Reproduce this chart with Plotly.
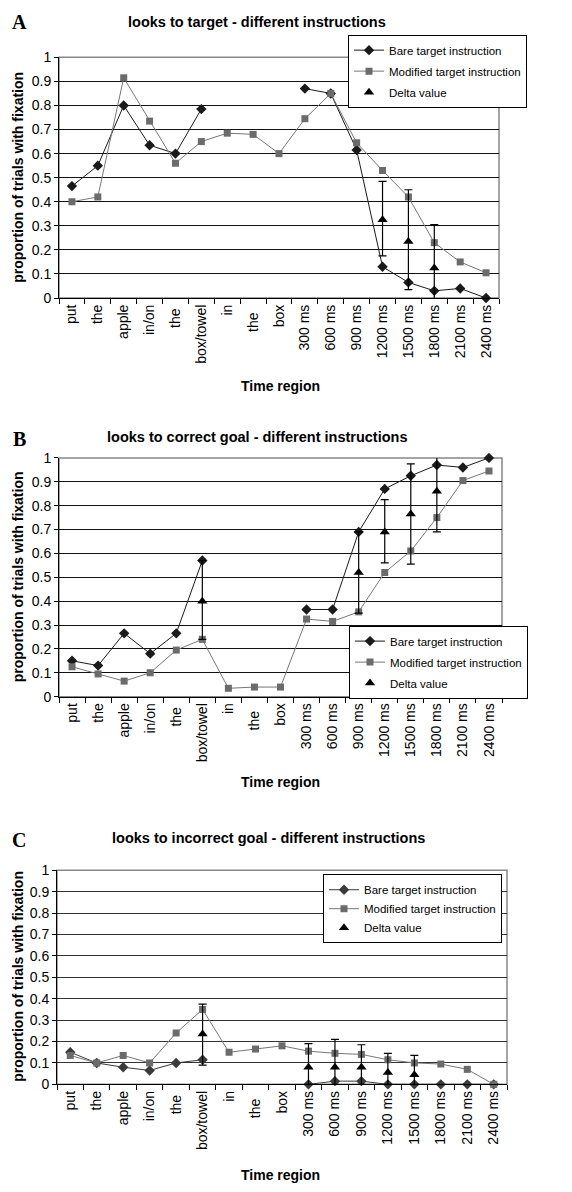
import plotly.graph_objects as go

# ---------------- data ----------------
categories = ["put", "the", "apple", "in/on", "the", "box/towel", "in", "the", "box",
              "300 ms", "600 ms", "900 ms", "1200 ms", "1500 ms", "1800 ms", "2100 ms", "2400 ms"]

# Panel A: looks to target
a_bare = [0.465, 0.55, 0.80, 0.635, 0.60, 0.785, None, None, None,
          0.87, 0.85, 0.615, 0.13, 0.065, 0.03, 0.04, 0.0]
a_mod = [0.40, 0.42, 0.915, 0.735, 0.56, 0.65, 0.685, 0.68, 0.60,
         0.745, 0.85, 0.645, 0.53, 0.42, 0.23, 0.15, 0.105]
a_delta_cat = ["1200 ms", "1500 ms", "1800 ms"]
a_delta = [0.325, 0.235, 0.125]
a_delta_hi = [0.485, 0.45, 0.305]
a_delta_lo = [0.175, 0.035, -0.055]

# Panel B: looks to correct goal
b_bare = [0.15, 0.13, 0.265, 0.18, 0.265, 0.57, None, None, None,
          0.365, 0.365, 0.69, 0.87, 0.925, 0.97, 0.96, 1.0]
b_mod = [0.125, 0.095, 0.065, 0.10, 0.195, 0.24, 0.035, 0.04, 0.04,
         0.325, 0.315, 0.355, 0.52, 0.61, 0.75, 0.905, 0.945]
b_delta_cat = ["box/towel", "900 ms", "1200 ms", "1500 ms", "1800 ms"]
b_delta = [0.40, 0.52, 0.69, 0.765, 0.86]
b_delta_hi = [0.57, 0.69, 0.825, 0.975, 1.03]
b_delta_lo = [0.24, 0.35, 0.56, 0.555, 0.69]

# Panel C: looks to incorrect goal
c_bare = [0.15, 0.10, 0.08, 0.065, 0.10, 0.115, None, None, None,
          0.0, 0.015, 0.015, 0.0, 0.0, 0.0, 0.0, 0.0]
c_mod = [0.135, 0.10, 0.135, 0.10, 0.24, 0.35, 0.15, 0.165, 0.18,
         0.155, 0.145, 0.14, 0.115, 0.10, 0.095, 0.07, 0.0]
c_delta_cat = ["box/towel", "300 ms", "600 ms", "900 ms", "1200 ms", "1500 ms"]
c_delta = [0.235, 0.08, 0.08, 0.08, 0.055, 0.045]
c_delta_hi = [0.375, 0.19, 0.21, 0.185, 0.145, 0.135]
c_delta_lo = [0.09, 0.0, 0.0, 0.0, 0.0, 0.0]

titles = ["looks to target - different instructions",
          "looks to correct goal - different instructions",
          "looks to incorrect goal - different instructions"]
letters = ["A", "B", "C"]

# ---------------- helpers ----------------
# unique category keys (the word "the" repeats); trailing spaces render invisibly
keys = []
seen = {}
for c in categories:
    n = seen.get(c, 0)
    keys.append(c + " " * n)
    seen[c] = n + 1


def key_of(label):
    return keys[categories.index(label)]


W, H = 572, 1192
FONT = "Liberation Sans, Arial, sans-serif"

fig = go.Figure()

panels = [
    dict(bare=a_bare, mod=a_mod, dcat=a_delta_cat, d=a_delta, dhi=a_delta_hi, dlo=a_delta_lo,
         x0=59, x1=499, ytop=50, ybot=294, legend=(348, 27), grid="#111111", bare_c="#1a1a1a",
         letter_y=14, title_x=257, title_y=14, ytitle_y=172, xtitle_y=383, gap=2),
    dict(bare=b_bare, mod=b_mod, dcat=b_delta_cat, d=b_delta, dhi=b_delta_hi, dlo=b_delta_lo,
         x0=59, x1=502, ytop=456, ybot=698, legend=(349, 626), grid="#111111", bare_c="#1a1a1a",
         letter_y=437, title_x=257, title_y=435, ytitle_y=577, xtitle_y=785, gap=2),
    dict(bare=c_bare, mod=c_mod, dcat=c_delta_cat, d=c_delta, dhi=c_delta_hi, dlo=c_delta_lo,
         x0=57, x1=507, ytop=874, ybot=1091, legend=(323, 878), grid="#333333", bare_c="#3a3a3a",
         letter_y=843, title_x=268, title_y=841, ytitle_y=982, xtitle_y=1183, gap=0),
]

annotations = []
shapes = []
layout_axes = {}

for i, p in enumerate(panels):
    n = "" if i == 0 else str(i + 1)
    xa, ya = "x" + n, "y" + n
    leg = "legend" + n
    fig.add_trace(go.Scatter(
        x=keys, y=p["bare"], xaxis=xa, yaxis=ya, mode="lines+markers",
        name="Bare target instruction", legend=leg, legendgroup=f"b{i}", connectgaps=False,
        line=dict(color=p["bare_c"], width=1),
        marker=dict(symbol="diamond", size=8, color=p["bare_c"]), cliponaxis=False))
    fig.add_trace(go.Scatter(
        x=keys, y=p["mod"], xaxis=xa, yaxis=ya, mode="lines+markers",
        name="Modified target instruction", legend=leg, legendgroup=f"m{i}",
        line=dict(color="#777777", width=1),
        marker=dict(symbol="square", size=7, color="#6b6b6b"), cliponaxis=False))
    fig.add_trace(go.Scatter(
        x=[key_of(c) for c in p["dcat"]], y=p["d"], xaxis=xa, yaxis=ya, mode="markers",
        name="Delta value", legend=leg, legendgroup=f"d{i}",
        marker=dict(symbol="triangle-up", size=9, color="#000000"),
        error_y=dict(type="data", symmetric=False,
                     array=[h - v for h, v in zip(p["dhi"], p["d"])],
                     arrayminus=[v - l for v, l in zip(p["d"], p["dlo"])],
                     color="#000000", thickness=1.2, width=4),
        cliponaxis=False))

    xd = [p["x0"] / W, p["x1"] / W]
    yd = [1 - p["ybot"] / H, 1 - p["ytop"] / H]
    layout_axes["xaxis" + n] = dict(
        domain=xd, anchor=ya, type="category", categoryorder="array", categoryarray=keys,
        range=[-0.5, len(keys) - 0.5], tickson="boundaries", ticks="outside", ticklen=5,
        tickcolor="#000", tickangle=-90, showline=True, linecolor="#000", linewidth=1,
        showgrid=False, tickfont=dict(family=FONT, size=14, color="#000"), fixedrange=True)
    layout_axes["yaxis" + n] = dict(
        domain=yd, anchor=xa, range=[0, 1], dtick=0.1, tick0=0, ticks="outside", ticklen=4,
        tickcolor="#000", showline=True, linecolor="#000", linewidth=1,
        showgrid=True, gridcolor=p["grid"], gridwidth=1, zeroline=False,
        tickfont=dict(family=FONT, size=14, color="#000"), fixedrange=True)
    layout_axes[leg] = dict(
        x=p["legend"][0] / W, y=1 - p["legend"][1] / H, xanchor="left", yanchor="top",
        bgcolor="#ffffff", bordercolor="#000", borderwidth=1,
        font=dict(family=FONT, size=11.5, color="#000"), itemwidth=30,
        tracegroupgap=p["gap"])

    shapes.append(dict(type="rect", xref=xa + " domain", yref=ya + " domain",
                       x0=0, x1=1, y0=0, y1=1, line=dict(color="#888888", width=1.5),
                       layer="below"))

    annotations += [
        dict(text="<b>" + letters[i] + "</b>", x=19 / W, y=1 - p["letter_y"] / H,
             xref="paper", yref="paper", showarrow=False, xanchor="center", yanchor="middle",
             font=dict(family="Liberation Serif, Times New Roman, serif", size=20, color="#000")),
        dict(text="<b>" + titles[i] + "</b>", x=p["title_x"] / W, y=1 - p["title_y"] / H,
             xref="paper", yref="paper", showarrow=False, xanchor="center", yanchor="middle",
             font=dict(family=FONT, size=14.5, color="#000")),
        dict(text="<b>proportion of trials with fixation</b>", x=18 / W,
             y=1 - p["ytitle_y"] / H, xref="paper", yref="paper", showarrow=False,
             textangle=-90, xanchor="center", yanchor="middle",
             font=dict(family=FONT, size=14, color="#000")),
        dict(text="<b>Time region</b>", x=280 / W, y=1 - p["xtitle_y"] / H,
             xref="paper", yref="paper", showarrow=False, xanchor="center", yanchor="middle",
             font=dict(family=FONT, size=14, color="#000")),
    ]

fig.update_layout(
    width=W, height=H, margin=dict(l=0, r=0, t=0, b=0),
    paper_bgcolor="#ffffff", plot_bgcolor="#ffffff",
    font=dict(family=FONT, size=12, color="#000"),
    showlegend=True, annotations=annotations, shapes=shapes,
    **layout_axes)

fig.write_html("out.html", config={"displayModeBar": False},
               post_script="document.body.style.margin='0';")
